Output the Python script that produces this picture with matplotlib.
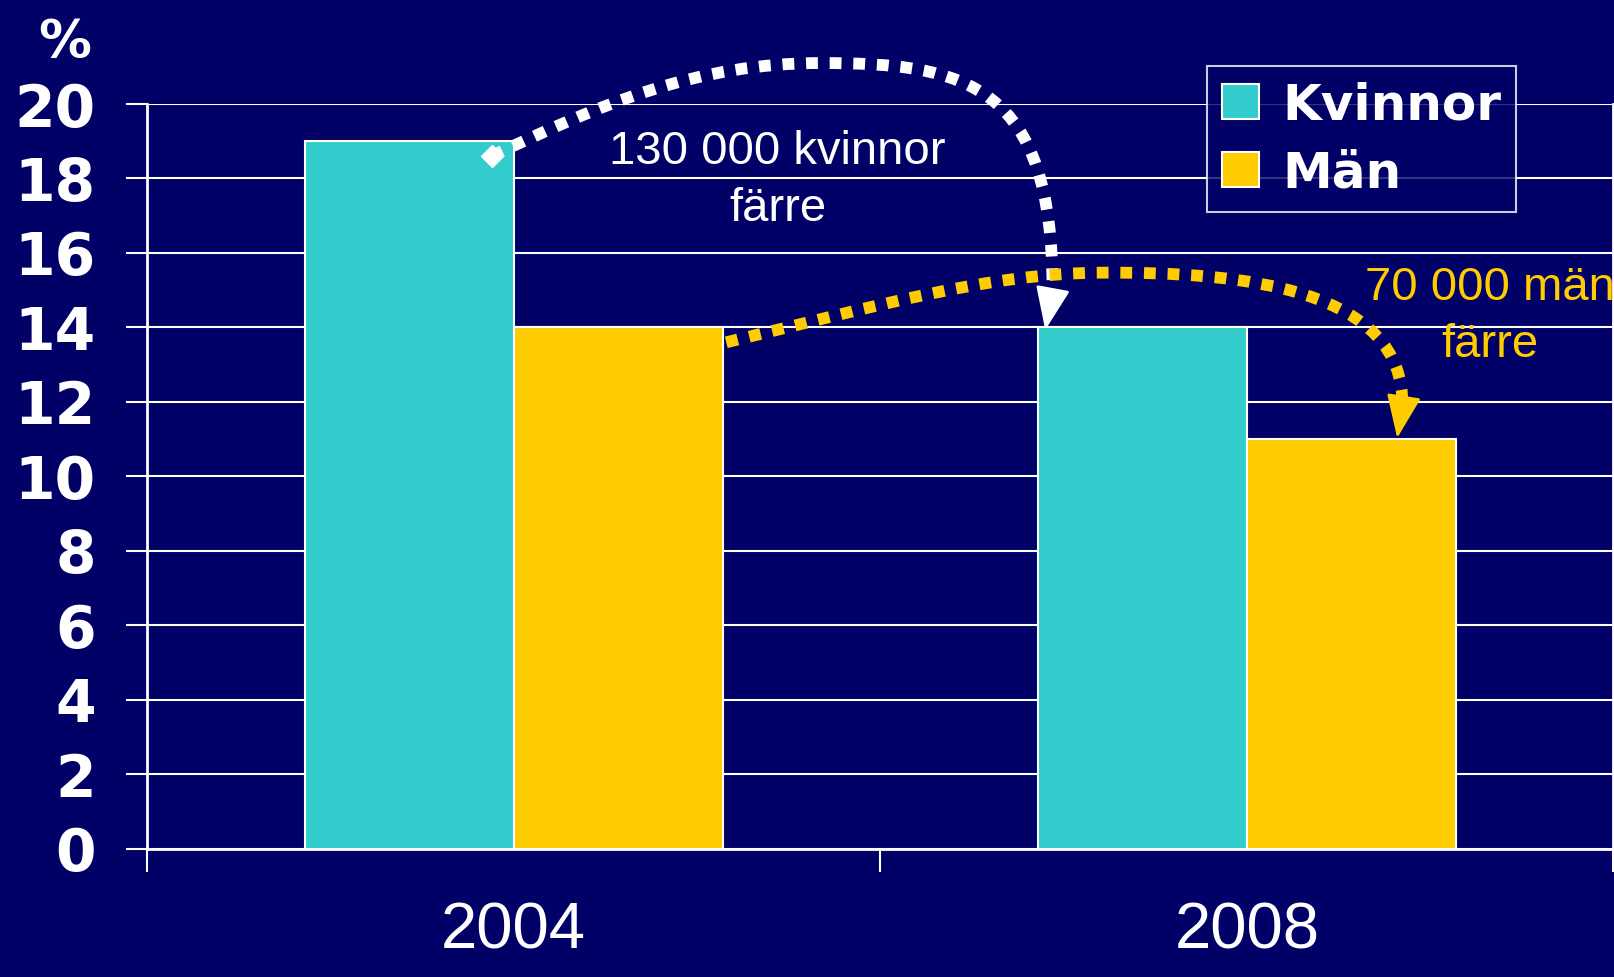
import matplotlib
matplotlib.use("Agg")
import matplotlib.pyplot as plt
import numpy as np
from matplotlib.path import Path
from matplotlib.patches import PathPatch, Patch

# data
years = ['2004', '2008']
kvinnor = [19, 14]
man = [14, 11]
labels = ['Kvinnor', 'Män']

bg = '#000066'
c_kv = '#33CCCC'
c_man = '#FFCC00'
bar_w = 0.285

fig = plt.figure(figsize=(16.15, 9.77), dpi=100, facecolor=bg)
ax = fig.add_axes([147 / 1615, (977 - 848.7) / 977, (1613.5 - 147) / 1615, (848.7 - 104) / 977])
ax.set_facecolor(bg)

x = np.arange(len(years))
ax.bar(x - bar_w / 2, kvinnor, bar_w, color=c_kv, edgecolor='white', linewidth=1.5, zorder=3)
ax.bar(x + bar_w / 2, man, bar_w, color=c_man, edgecolor='white', linewidth=1.5, zorder=3)

ax.set_xlim(-0.5, 1.5)
ax.set_ylim(0, 20)

# y axis
ax.set_yticks(np.arange(0, 21, 2))
ax.yaxis.grid(True, color='white', linewidth=1.5, zorder=0)
ax.set_axisbelow(True)
ax.tick_params(axis='y', direction='out', length=15, width=1.5, color='white',
               labelcolor='white', labelsize=42, pad=22)
for t in ax.get_yticklabels():
    t.set_fontweight('bold')

# x axis: labels at centers, tick marks at category borders
ax.set_xticks(x)
ax.set_xticklabels(years, family=['Liberation Sans', 'DejaVu Sans'], fontsize=47, color='white')
ax.tick_params(axis='x', which='major', length=0, pad=38)
ax.set_xticks([-0.5, 0.5, 1.5], minor=True)
ax.tick_params(axis='x', which='minor', direction='out', length=16.5, width=1.5, color='white')

for s in ['left', 'bottom', 'right']:
    ax.spines[s].set_color('white')
    ax.spines[s].set_linewidth(2)
ax.spines['top'].set_visible(False)

fig.text(65 / 1615, 1 - 43 / 977, '%', color='white', fontsize=38, fontweight='bold',
         ha='center', va='center')

# dotted arrows
def dotted_arc(p0, c1, c2, pm, c3, c4, p3, tip, color):
    verts = [p0, c1, c2, pm, c3, c4, p3]
    codes = [Path.MOVETO] + [Path.CURVE4] * 6
    ax.add_patch(PathPatch(Path(verts, codes), fill=False, edgecolor=color, lw=8.5,
                           linestyle=(0, (1, 1)), capstyle='butt', clip_on=False, zorder=5))
    ax.annotate('', xy=tip, xytext=p3,
                arrowprops=dict(arrowstyle='-|>,head_length=1.0,head_width=0.4',
                                color=color, lw=2, mutation_scale=27, shrinkA=0, shrinkB=0),
                zorder=6, annotation_clip=False)

x_kv08 = 1 - bar_w
dotted_arc((-0.03, kvinnor[0] - 0.4), (0.12, 20.0), (0.25, 21.1), (0.42, 21.1),
           (0.62, 21.1), (x_kv08 + 0.02, 20.5), (x_kv08 + 0.02, kvinnor[1] + 1.0),
           (x_kv08 + 0.01, kvinnor[1] - 0.07), 'white')
ax.plot([-0.03], [kvinnor[0] - 0.4], marker='D', color='white', markersize=11, zorder=6, clip_on=False)

dotted_arc((bar_w + 0.005, man[0] - 0.4), (0.5, 14.6), (0.65, 15.45), (0.8, 15.47),
           (1.0, 15.5), (1.215, 15.0), (1.212, man[1] + 0.9),
           (1.205, man[1] + 0.03), c_man)

ax.text(0.36, 19.3, '130 000 kvinnor\nfärre', color='white', fontsize=34,
        family=['Liberation Sans', 'DejaVu Sans'], ha='center', va='top', linespacing=1.38, zorder=7)
ax.text(1.332, 15.66, '70 000 män\nfärre', color=c_man, fontsize=34,
        family=['Liberation Sans', 'DejaVu Sans'], ha='center', va='top', linespacing=1.38,
        zorder=7, clip_on=False)

handles = [Patch(facecolor=c_kv, edgecolor='white', lw=1.5),
           Patch(facecolor=c_man, edgecolor='white', lw=1.5)]
leg = fig.legend(handles, labels, loc='upper right', bbox_to_anchor=(1516 / 1615, 1 - 66 / 977),
                 frameon=True, facecolor=bg, edgecolor='white', fancybox=False,
                 prop={'weight': 'bold', 'size': 36}, handlelength=0.74, handleheight=0.7,
                 handletextpad=0.45, labelspacing=0.4, borderpad=0.3, borderaxespad=0)
leg.get_frame().set_linewidth(1.5)
for t in leg.get_texts():
    t.set_color('white')

fig.savefig('out.png', dpi=100, facecolor=bg)
